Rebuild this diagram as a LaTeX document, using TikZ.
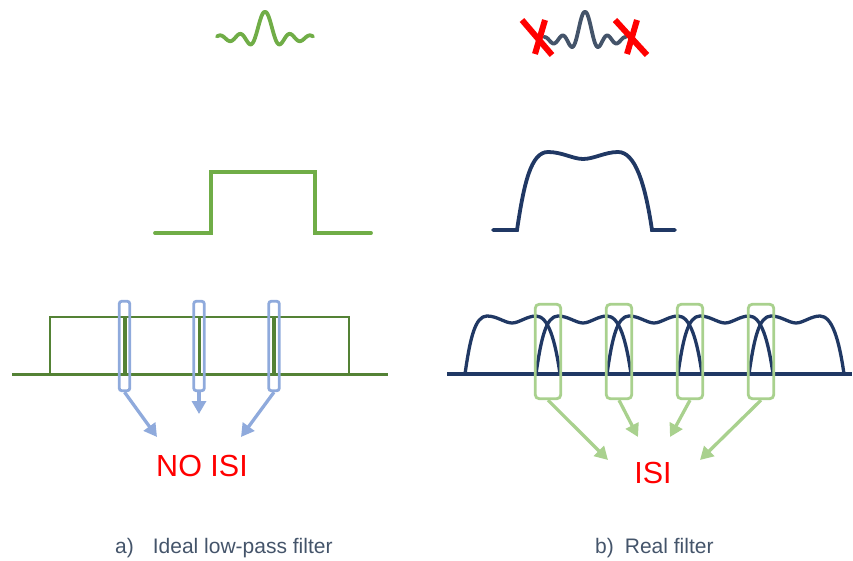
\documentclass[tikz,border=0pt]{standalone}
\usepackage{fontspec}
\setmainfont{Liberation Sans}
\usetikzlibrary{arrows.meta}

\definecolor{lightgreen}{HTML}{70AD47}
\definecolor{darkgreen}{HTML}{548235}
\definecolor{navy}{HTML}{203864}
\definecolor{slate}{HTML}{44546A}
\definecolor{paleblue}{HTML}{8FAADC}
\definecolor{palegreen}{HTML}{A9D18E}

\tikzset{
  ideal/.style={darkgreen, line width=2.5pt},
  idealbase/.style={darkgreen, line width=3pt},
  realline/.style={navy, line width=3.3pt, line join=round},
  bluebox/.style={draw=paleblue, line width=2.8pt, rounded corners=2.5pt,
    minimum width=10.5pt, minimum height=89.5pt, inner sep=0pt},
  greenbox/.style={draw=palegreen, line width=2.8pt, rounded corners=4pt,
    minimum width=25.5pt, minimum height=94.5pt, inner sep=0pt},
  bluearrow/.style={paleblue, line width=3.3pt, -{Triangle[length=13pt,width=14pt]}},
  greenarrow/.style={palegreen, line width=3.3pt, -{Triangle[length=13pt,width=14pt]}},
  isitext/.style={red, font=\fontsize{30.5}{36}\selectfont},
  subcap/.style={slate, font=\fontsize{21}{25}\selectfont, anchor=base west, inner sep=0pt},
}

\begin{document}
\begin{tikzpicture}[x=1pt, y=-1pt]
\useasboundingbox (0,0) rectangle (853,561);

% impulse responses
\draw[lightgreen, line width=3.8pt, line cap=round]
  plot[domain=-48:48, samples=120] ({265+\x}, {38-26*sin(18*\x)/(0.1*pi*\x)*(1+0.01*abs(\x))});
\draw[slate, line width=3.8pt, line cap=round]
  plot[domain=-41:41, samples=110] ({585+\x}, {40-28*sin(20*\x)/(pi*\x/9)*(1+0.012*abs(\x))});
\draw[red, line width=6pt] (522,20) -- (552,55);
\draw[red, line width=6pt] (545,20) -- (535,54);
\draw[red, line width=6pt] (615,20) -- (647,55);
\draw[red, line width=6pt] (637,20) -- (627,54);

% spectra
\draw[lightgreen, line width=3.8pt, line cap=round]
  (155,233) -- (211,233) -- (211,172) -- (315,172) -- (315,233) -- (371,233);
\draw[navy, line width=3.8pt, line cap=round]
  (493,230) -- (517,230) .. controls (524,183) and (531,152) .. (548,152)
  .. controls (562,152) and (573,159) .. (583,159)
  .. controls (594,159) and (605,152) .. (618,152)
  .. controls (635,152) and (645,183) .. (652,230) -- (675,230);

% ideal: neighbouring bands just touch
\draw[idealbase] (12,374) -- (388,374);
\foreach \a in {50,124.5,199,273.5}
  \draw[ideal] (\a,374) -- (\a,317) -- (\a+75.5,317) -- (\a+75.5,374);

\node[bluebox] (nb1) at (124.5,346) {};
\node[bluebox] (nb2) at (199,346) {};
\node[bluebox] (nb3) at (274,346) {};
\node[isitext] (noisi) at (202,466) {NO ISI};
\coordinate (nt1) at (157,437);
\coordinate (nt2) at (199,414);
\coordinate (nt3) at (241,437);
\draw[bluearrow] (nb1.south) -- (nt1);
\draw[bluearrow] (nb2.south) -- (nt2);
\draw[bluearrow] (nb3.south) -- (nt3);

% real: neighbouring bands overlap
\draw[realline] (447,374) -- (852,374);
\foreach \k in {0,...,4}
  \draw[realline, shift={(465+71*\k,374)}]
    (0,0) .. controls (5,-35) and (10,-58) .. (22,-58)
    .. controls (32,-58) and (40,-51) .. (47,-51)
    .. controls (54,-51) and (62,-58) .. (71,-58)
    .. controls (83,-58) and (90,-35) .. (95,0);

\node[greenbox] (gb1) at (548,351.5) {};
\node[greenbox] (gb2) at (619,351.5) {};
\node[greenbox] (gb3) at (690,351.5) {};
\node[greenbox] (gb4) at (761,351.5) {};
\node[isitext] (isi) at (653,473) {ISI};
\coordinate (gt1) at (608,460);
\coordinate (gt2) at (638,437);
\coordinate (gt3) at (670,437);
\coordinate (gt4) at (700,460);
\draw[greenarrow] (gb1.south) -- (gt1);
\draw[greenarrow] (gb2.south) -- (gt2);
\draw[greenarrow] (gb3.south) -- (gt3);
\draw[greenarrow] (gb4.south) -- (gt4);

\node[subcap] (capa) at (115,553) {a)\hspace{19pt}Ideal low-pass filter};
\node[subcap] (capb) at (595,553) {b)\hspace{11pt}Real filter};
\end{tikzpicture}
\end{document}
